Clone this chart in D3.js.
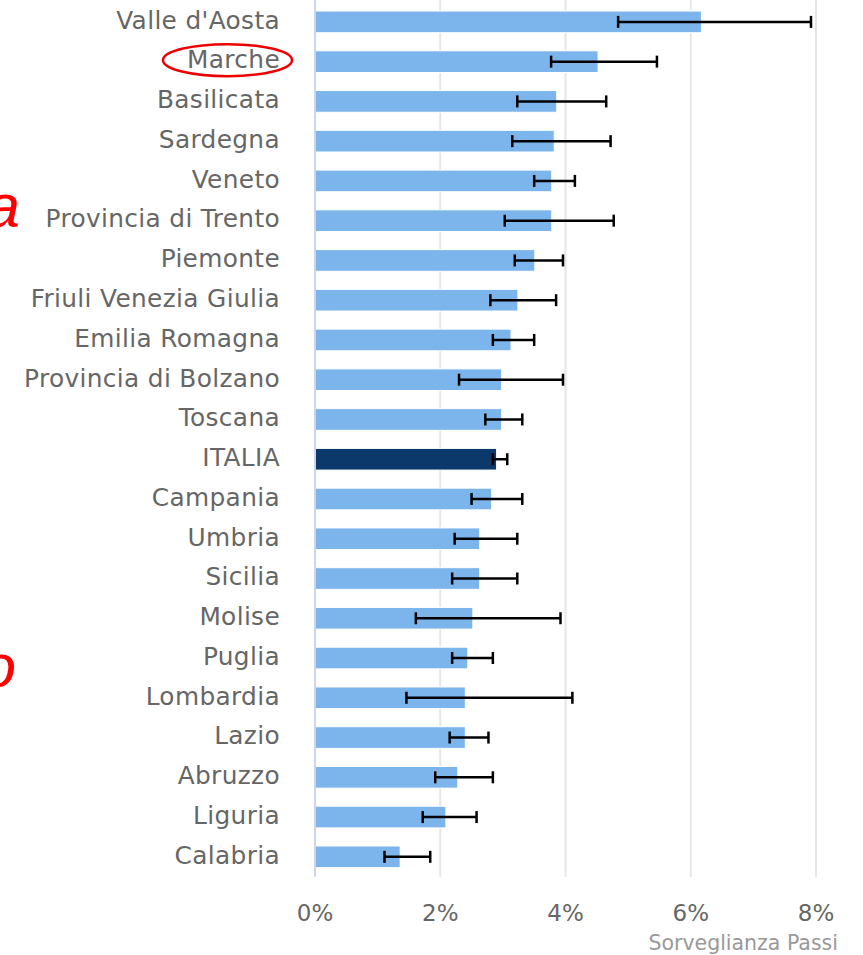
<!DOCTYPE html>
<html>
<head>
<meta charset="utf-8">
<script src="https://cdn.jsdelivr.net/npm/d3@7"></script>
<style>
  html, body { margin: 0; padding: 0; background: #fff; }
  svg { display: block; }
</style>
</head>
<body>
<div id="chart"></div>
<script>
(function() {
    "use strict";

    // regions, sorted as in the picture
    var regions = ["Valle d'Aosta", "Marche", "Basilicata", "Sardegna", "Veneto",
        "Provincia di Trento", "Piemonte", "Friuli Venezia Giulia", "Emilia Romagna",
        "Provincia di Bolzano", "Toscana", "ITALIA", "Campania", "Umbria", "Sicilia",
        "Molise", "Puglia", "Lombardia", "Lazio", "Abruzzo", "Liguria", "Calabria"];

    // prevalence (%) and confidence interval
    var values = [6.17, 4.52, 3.86, 3.82, 3.78, 3.78, 3.51, 3.24, 3.13, 2.98, 2.98,
        2.90, 2.82, 2.63, 2.63, 2.52, 2.44, 2.40, 2.40, 2.28, 2.09, 1.36];
    var lower = [4.84, 3.77, 3.23, 3.15, 3.50, 3.03, 3.19, 2.80, 2.84, 2.30, 2.72,
        2.84, 2.50, 2.23, 2.19, 1.61, 2.19, 1.46, 2.15, 1.92, 1.72, 1.11];
    var upper = [7.92, 5.46, 4.65, 4.72, 4.15, 4.77, 3.96, 3.85, 3.50, 3.96, 3.31,
        3.07, 3.31, 3.23, 3.23, 3.92, 2.84, 4.11, 2.77, 2.84, 2.58, 1.84];

    var ticks = [0, 2, 4, 6, 8];
    var highlight = "ITALIA";
    var circled = "Marche";
    var credits = "Sorveglianza Passi";

    var w = 863;
    var h = 955;
    var font = "'Lucida Grande', 'DejaVu Sans', sans-serif";

    var xScale = d3.scaleLinear()
        .domain([0, 8])
        .range([315, 816]);
    var yScale = d3.scaleBand()
        .domain(regions)
        .range([2, 876.7])
        .paddingInner(0.455)
        .paddingOuter(0.2275);

    var svg = d3.select("#chart").append("svg")
        .attr("width", w)
        .attr("height", h);

    // grid lines
    svg.selectAll(".grid")
        .data(ticks.slice(1))
        .enter()
        .append("line")
            .attr("class", "grid")
            .attr("x1", function(d) { return xScale(d); })
            .attr("x2", function(d) { return xScale(d); })
            .attr("y1", 0)
            .attr("y2", 876.7)
            .attr("stroke", "#e6e6e6")
            .attr("stroke-width", 2);

    // bars
    svg.selectAll(".bar")
        .data(regions)
        .enter()
        .append("rect")
            .attr("class", "bar")
            .attr("x", xScale(0))
            .attr("y", function(d) { return yScale(d); })
            .attr("width", function(d, i) { return xScale(values[i]) - xScale(0); })
            .attr("height", yScale.bandwidth())
            .attr("fill", function(d) { return d == highlight ? "#0b396b" : "#7cb5ec"; })
            .attr("stroke", "#fff")
            .attr("stroke-width", 1);

    // axis line at 0
    svg.append("line")
        .attr("x1", xScale(0))
        .attr("x2", xScale(0))
        .attr("y1", 0)
        .attr("y2", 876.7)
        .attr("stroke", "#ccd6eb")
        .attr("stroke-width", 2);

    // error bars
    var err = svg.selectAll(".err")
        .data(regions)
        .enter()
        .append("g")
            .attr("class", "err")
            .attr("stroke", "#000")
            .attr("stroke-width", 2.5);
    err.append("line")
        .attr("x1", function(d, i) { return xScale(lower[i]); })
        .attr("x2", function(d, i) { return xScale(upper[i]); })
        .attr("y1", function(d) { return yScale(d) + yScale.bandwidth() / 2; })
        .attr("y2", function(d) { return yScale(d) + yScale.bandwidth() / 2; });
    err.append("line")
        .attr("x1", function(d, i) { return xScale(lower[i]); })
        .attr("x2", function(d, i) { return xScale(lower[i]); })
        .attr("y1", function(d) { return yScale(d) + yScale.bandwidth() / 2 - 6; })
        .attr("y2", function(d) { return yScale(d) + yScale.bandwidth() / 2 + 6; });
    err.append("line")
        .attr("x1", function(d, i) { return xScale(upper[i]); })
        .attr("x2", function(d, i) { return xScale(upper[i]); })
        .attr("y1", function(d) { return yScale(d) + yScale.bandwidth() / 2 - 6; })
        .attr("y2", function(d) { return yScale(d) + yScale.bandwidth() / 2 + 6; });

    // category labels
    svg.selectAll(".cat")
        .data(regions)
        .enter()
        .append("text")
            .attr("class", "cat")
            .attr("x", 280)
            .attr("y", function(d) { return yScale(d) + yScale.bandwidth() / 2; })
            .attr("dy", 6.8)
            .attr("text-anchor", "end")
            .attr("font-family", font)
            .attr("font-size", "24.8px")
            .attr("letter-spacing", "0.35px")
            .attr("fill", "#666")
            .text(function(d) { return d; });

    // x tick labels
    svg.selectAll(".tick")
        .data(ticks)
        .enter()
        .append("text")
            .attr("class", "tick")
            .attr("x", function(d) { return xScale(d); })
            .attr("y", 921)
            .attr("text-anchor", "middle")
            .attr("font-family", font)
            .attr("font-size", "23px")
            .attr("fill", "#666")
            .text(function(d) { return d + "%"; });

    svg.append("text")
        .attr("x", 838)
        .attr("y", 950)
        .attr("text-anchor", "end")
        .attr("font-family", font)
        .attr("font-size", "20.5px")
        .attr("fill", "#999")
        .text(credits);

    // red annotations drawn over the picture
    var cy = yScale(circled) + yScale.bandwidth() / 2;
    svg.append("ellipse")
        .attr("cx", 227.5)
        .attr("cy", cy - 1.5)
        .attr("rx", 64.5)
        .attr("ry", 16)
        .attr("fill", "none")
        .attr("stroke", "#ee0000")
        .attr("stroke-width", 2.5);

    svg.append("text")
        .attr("x", 20)
        .attr("y", 227)
        .attr("text-anchor", "end")
        .attr("font-family", "'Liberation Sans', Arial, sans-serif")
        .attr("font-style", "italic")
        .attr("font-size", "62px")
        .attr("fill", "#ff0000")
        .text("a");

    svg.append("text")
        .attr("x", 16)
        .attr("y", 687)
        .attr("text-anchor", "end")
        .attr("font-family", "'Liberation Sans', Arial, sans-serif")
        .attr("font-style", "italic")
        .attr("font-size", "62px")
        .attr("fill", "#ff0000")
        .text("o");
})();
</script>
</body>
</html>
